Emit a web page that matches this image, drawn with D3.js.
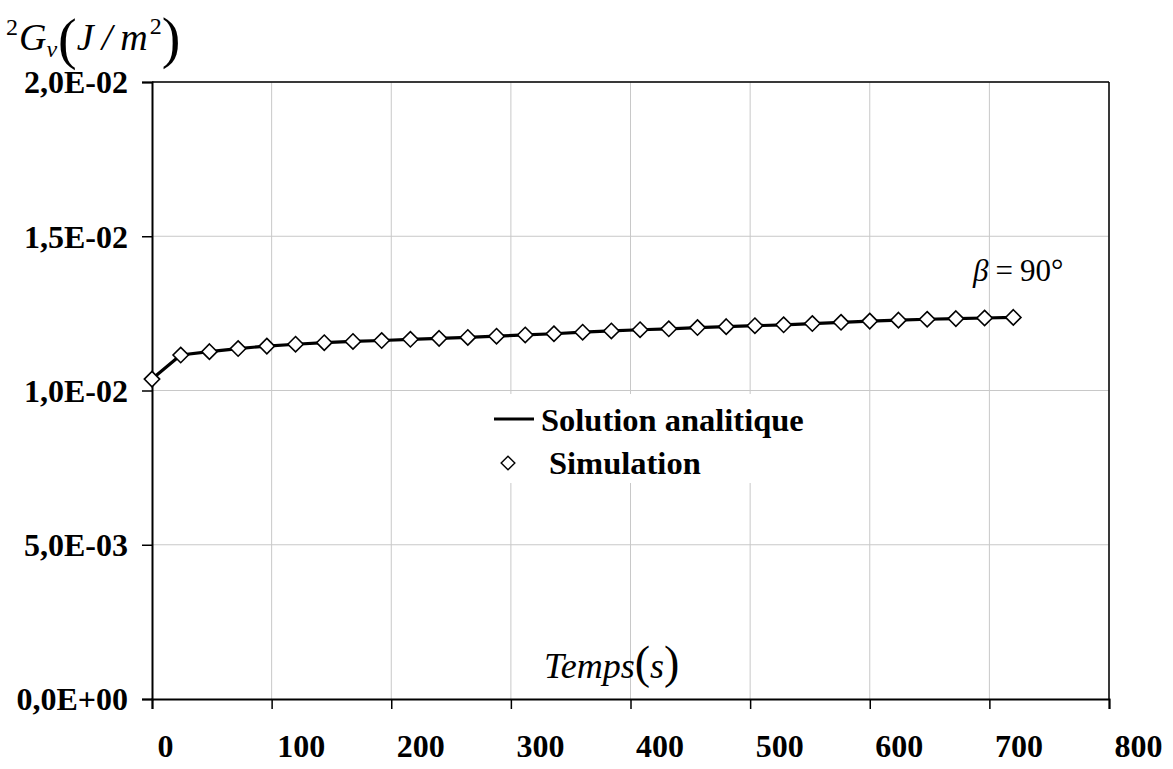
<!DOCTYPE html>
<html><head><meta charset="utf-8">
<script src="https://cdn.jsdelivr.net/npm/d3@7"></script>
<style>
html,body{margin:0;padding:0;background:#fff;}
svg{display:block;}
</style></head>
<body>
<svg id="c" width="1173" height="769"></svg>
<script>
// Data
const times = [0,24,48,72,96,120,144,168,192,216,240,264,288,312,336,360,384,408,432,456,480,504,528,552,576,600,624,648,672,696,720];
const analytique = [0.01037,0.01115,0.01126,0.01136,0.01144,0.01150,0.01155,0.01159,0.01162,0.01166,0.01169,0.01172,0.01176,0.01180,0.01184,0.01189,0.01193,0.01197,0.01200,0.01204,0.01207,0.01210,0.01213,0.01217,0.01221,0.01225,0.01228,0.01231,0.01233,0.01235,0.01237];
const simulation = [0.01037,0.01115,0.01126,0.01136,0.01144,0.01150,0.01155,0.01159,0.01162,0.01166,0.01169,0.01172,0.01176,0.01180,0.01184,0.01189,0.01193,0.01197,0.01200,0.01204,0.01207,0.01210,0.01213,0.01217,0.01221,0.01225,0.01228,0.01231,0.01233,0.01235,0.01237];
const xTicks = [0,100,200,300,400,500,600,700,800];
const yTicks = [0,0.005,0.01,0.015,0.02];
const yTickLabels = ["0,0E+00","5,0E-03","1,0E-02","1,5E-02","2,0E-02"];
const legendLabels = ["Solution analitique","Simulation"];

const svg = d3.select("#c");
const L=152, R=1109, T=82, B=699;
const x = d3.scaleLinear().domain([0,800]).range([L,R]);
const y = d3.scaleLinear().domain([0,0.02]).range([B,T]);
const serif = "'Liberation Serif','Times New Roman',serif";

// grid
const g = svg.append("g");
g.selectAll("line.vg").data(xTicks.slice(1)).enter().append("line")
  .attr("x1",d=>x(d)).attr("x2",d=>x(d)).attr("y1",T).attr("y2",B)
  .attr("stroke","#c8c8c8").attr("stroke-width",1);
g.selectAll("line.hg").data(yTicks.slice(1)).enter().append("line")
  .attr("x1",L).attr("x2",R).attr("y1",d=>y(d)).attr("y2",d=>y(d))
  .attr("stroke","#c8c8c8").attr("stroke-width",1);

// border top/right
svg.append("line").attr("x1",L).attr("x2",R).attr("y1",T).attr("y2",T).attr("stroke","#000").attr("stroke-width",1.5);
svg.append("line").attr("x1",R).attr("x2",R).attr("y1",T).attr("y2",B).attr("stroke","#000").attr("stroke-width",1.5);

// axes
const xAxis = d3.axisBottom(x).tickValues(xTicks).tickSize(10).tickFormat(d3.format("d"));
const xg = svg.append("g").attr("transform",`translate(0,${B})`).call(xAxis);
xg.select(".domain").attr("stroke","#000").attr("stroke-width",2);
xg.selectAll(".tick line").attr("stroke","#000").attr("stroke-width",1.5);
xg.selectAll(".tick text").attr("font-family",serif).attr("font-weight","bold").attr("font-size",32)
  .attr("fill","#000").attr("text-anchor","start").attr("x",5).attr("y",48).attr("dy","0.32em");

const yAxis = d3.axisLeft(y).tickValues(yTicks).tickSize(10).tickFormat((d,i)=>yTickLabels[i]);
const yg = svg.append("g").attr("transform",`translate(${L},0)`).call(yAxis);
yg.select(".domain").attr("stroke","#000").attr("stroke-width",2);
yg.selectAll(".tick line").attr("stroke","#000").attr("stroke-width",1.5);
yg.selectAll(".tick text").attr("font-family",serif).attr("font-weight","bold").attr("font-size",32)
  .attr("fill","#000").attr("x",-24).attr("dy","0.34em");

// line
const line = d3.line().x((d,i)=>x(times[i])).y(d=>y(d));
svg.append("path").datum(analytique).attr("d",line).attr("fill","none")
  .attr("stroke","#000").attr("stroke-width",3.2).attr("stroke-linejoin","round");

// diamonds
const sym = d3.symbol().type(d3.symbolDiamond2).size(150);
svg.selectAll("path.pt").data(simulation).enter().append("path")
  .attr("transform",(d,i)=>`translate(${x(times[i])},${y(d)})`)
  .attr("d",sym).attr("fill","#fff").attr("stroke","#000").attr("stroke-width",1.6);

// legend
const lg = svg.append("g");
lg.append("rect").attr("x",488).attr("y",394).attr("width",325).attr("height",89).attr("fill","#fff");
lg.append("line").attr("x1",494).attr("x2",534).attr("y1",419).attr("y2",419).attr("stroke","#000").attr("stroke-width",3.2);
lg.append("text").attr("x",541).attr("y",431).text(legendLabels[0])
  .attr("font-family",serif).attr("font-weight","bold").attr("font-size",32.5);
lg.append("path").attr("transform","translate(508,463)").attr("d",d3.symbol().type(d3.symbolDiamond2).size(120))
  .attr("fill","#fff").attr("stroke","#000").attr("stroke-width",1.4);
lg.append("text").attr("x",549).attr("y",474).text(legendLabels[1])
  .attr("font-family",serif).attr("font-weight","bold").attr("font-size",32.5);

// y title
const yt = svg.append("text").attr("x",6).attr("y",50).attr("font-family",serif).attr("font-size",38);
yt.append("tspan").text("2").attr("font-size",24).attr("dy",-15);
yt.append("tspan").text("G").attr("font-style","italic").attr("dy",15).attr("dx",1);
yt.append("tspan").text("v").attr("font-style","italic").attr("font-size",24).attr("dy",7);
yt.append("tspan").text("(").attr("font-size",56).attr("dy",1).attr("dx",1);
yt.append("tspan").text("J").attr("font-style","italic").attr("dy",-8);
yt.append("tspan").text("/").attr("font-style","italic").attr("dx",8);
yt.append("tspan").text("m").attr("font-style","italic").attr("dx",8);
yt.append("tspan").text("2").attr("font-size",24).attr("dy",-16).attr("dx",2);
yt.append("tspan").text(")").attr("font-size",56).attr("dy",23);

// x title
const xt = svg.append("text").attr("x",544).attr("y",678).attr("font-family",serif).attr("font-size",36);
xt.append("tspan").text("Temps").attr("font-style","italic");
xt.append("tspan").text("(").attr("font-size",46);
xt.append("tspan").text("s").attr("font-style","italic");
xt.append("tspan").text(")").attr("font-size",46);

// beta annotation
const bt = svg.append("text").attr("x",973).attr("y",281).attr("font-family",serif).attr("font-size",31);
bt.append("tspan").text("β").attr("font-style","italic");
bt.append("tspan").text("=").attr("dx",7);
bt.append("tspan").text("90°").attr("dx",7);
</script>
</body></html>
